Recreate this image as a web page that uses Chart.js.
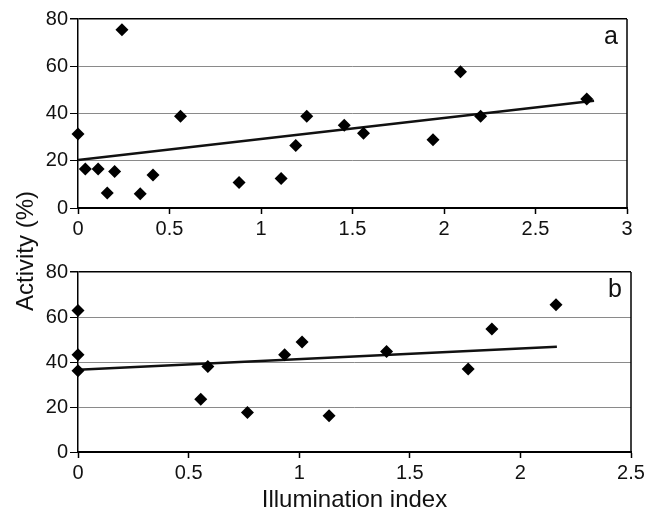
<!DOCTYPE html>
<html>
<head>
<meta charset="utf-8">
<script src="https://cdn.jsdelivr.net/npm/chart.js@4"></script>
<style>
  body { margin: 0; background: #fff; }
  #wrap { position: relative; width: 656px; height: 512px; font-family: "Liberation Sans", Arial, sans-serif; }
  .box { position: absolute; left: 0; width: 656px; }
  #ytitle { position: absolute; left: 25px; top: 251px; transform: translate(-50%, -50%) rotate(-90deg); font-size: 24px; white-space: nowrap; color: #111; }
</style>
</head>
<body>
<div id="wrap">
  <div class="box" style="top:0;height:240px"><canvas id="chartA"></canvas></div>
  <div class="box" style="top:240px;height:272px"><canvas id="chartB"></canvas></div>
  <div id="ytitle">Activity (%)</div>
</div>
<script>
// panel a
const aIndex    = [0, 0.04, 0.11, 0.16, 0.20, 0.24, 0.34, 0.41, 0.56, 0.88, 1.11, 1.19, 1.25, 1.455, 1.56, 1.94, 2.09, 2.20, 2.78]
const aActivity = [31.3, 16.5, 16.5, 6.3, 15.5, 75.5, 6, 14, 38.8, 10.8, 12.5, 26.5, 38.8, 35, 31.6, 28.9, 57.7, 38.8, 46.1]
const aFitX = [0, 2.82]
const aFitY = [20.3, 45.4]

// panel b
const bIndex    = [0, 0, 0, 0.555, 0.587, 0.766, 0.934, 1.013, 1.135, 1.395, 1.764, 1.871, 2.161]
const bActivity = [62.9, 43.2, 36.1, 23.5, 38, 17.6, 43.2, 48.9, 16.1, 44.7, 36.9, 54.7, 65.5]
const bFitX = [0, 2.165]
const bFitY = [36.6, 46.8]

const yTicks = [0, 20, 40, 60, 80]

const FONT = '"Liberation Sans", Arial, sans-serif'

// right edge of the frame + panel letter
const framePlugin = {
    id: 'frame',
    beforeDatasetsDraw(chart, args, opts) {
        const a = chart.chartArea
        const c = chart.ctx
        c.save()
        c.strokeStyle = '#000'
        c.lineWidth = 1.5
        c.beginPath()
        c.moveTo(a.right, a.top)
        c.lineTo(a.right, a.bottom)
        c.stroke()
        c.fillStyle = '#111'
        c.font = '25px ' + FONT
        c.textAlign = 'right'
        c.textBaseline = 'alphabetic'
        c.fillText(opts.letter, a.right - 9, a.top + 25)
        c.restore()
    }
}

function pairs(xs, ys) {
    return xs.map((x, i) => ({ x: x, y: ys[i] }))
}

function makeChart(id, xs, ys, fx, fy, xMax, letter, pad, xHeight, xTitle) {
    return new Chart(document.getElementById(id), {
        type: 'scatter',
        data: {
            datasets: [{
                data: pairs(xs, ys),
                pointStyle: 'rectRot',
                pointRadius: 6.5,
                pointHoverRadius: 6.5,
                backgroundColor: '#000',
                borderColor: '#000',
                borderWidth: 0,
                clip: false
            }, {
                type: 'line',
                data: pairs(fx, fy),
                borderColor: '#111',
                borderWidth: 2.5,
                pointRadius: 0,
                fill: false
            }]
        },
        options: {
            responsive: true,
            maintainAspectRatio: false,
            animation: false,
            events: [],
            layout: { padding: pad },
            plugins: {
                legend: { display: false },
                tooltip: { enabled: false },
                frame: { letter: letter }
            },
            scales: {
                x: {
                    type: 'linear',
                    min: 0,
                    max: xMax,
                    ticks: {
                        stepSize: 0.5,
                        color: '#111',
                        font: { family: FONT, size: 20 },
                        padding: 3,
                        maxRotation: 0,
                        callback: v => String(Math.round(v * 10) / 10)
                    },
                    grid: { drawOnChartArea: false, tickLength: 6, tickColor: '#000', tickWidth: 1.5 },
                    border: { color: '#000', width: 2 },
                    title: {
                        display: !!xTitle,
                        text: xTitle || '',
                        color: '#111',
                        font: { family: FONT, size: 24, lineHeight: 1 },
                        padding: { top: 0, bottom: 0 }
                    },
                    afterFit(scale) { scale.height = xHeight }
                },
                y: {
                    min: 0,
                    max: 80,
                    afterBuildTicks(scale) { scale.ticks = yTicks.map(v => ({ value: v })) },
                    ticks: { color: '#111', font: { family: FONT, size: 20 }, padding: 2 },
                    grid: {
                        color: ctx => (ctx.tick && ctx.tick.value === 80) ? '#000' : '#8a8a8a',
                        lineWidth: ctx => (ctx.tick && ctx.tick.value === 80) ? 1.5 : 1,
                        tickLength: 8,
                        tickColor: '#000'
                    },
                    border: { color: '#000', width: 1.5 },
                    afterFit(scale) { scale.width = 78 }
                }
            }
        },
        plugins: [framePlugin]
    })
}

makeChart('chartA', aIndex, aActivity, aFitX, aFitY, 3, 'a', { left: 0, right: 29, top: 19, bottom: 0 }, 32, null)
makeChart('chartB', bIndex, bActivity, bFitX, bFitY, 2.5, 'b', { left: 0, right: 25, top: 32, bottom: 0 }, 60, 'Illumination index')
</script>
</body>
</html>
